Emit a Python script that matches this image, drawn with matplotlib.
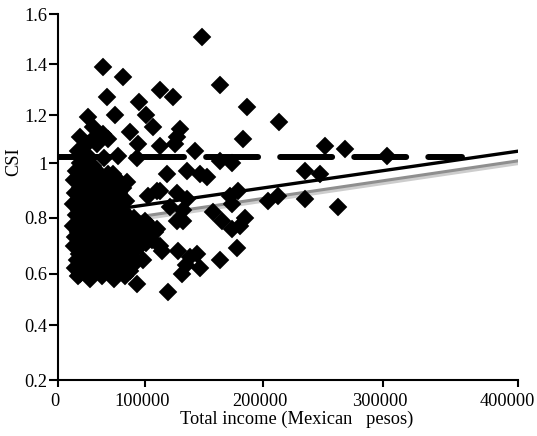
"""
Scatter of CSI vs total household income (Mexican pesos) with two fitted
lines and a dashed reference level.
"""

import numpy as np
import matplotlib
matplotlib.use("Agg")
import matplotlib.pyplot as plt
import matplotlib.patheffects as pe
from matplotlib.transforms import ScaledTranslation

# ---------------------------------------------------------------------------
# data
# ---------------------------------------------------------------------------
income = [
    # sparse points above the cloud
    148400, 51600, 74600, 163700, 112700, 123800, 56200, 93100, 186700,
    65400, 100800, 34300, 213600, 40000, 106800, 82700, 129700, 51600,
    25000, 40000, 127200, 183300, 57300, 91900, 112700, 33100, 44600,
    125500, 142500, 251900, 268900,
    # around the dashed level
    68900, 90800, 163700, 173900, 303200, 40000, 22700, 34300, 52700, 25000,
    # right part of the cloud
    235300, 247800, 118700, 135700, 152700, 172200, 179000, 173900, 204400,
    212800, 235300, 263000, 157800, 165400, 173900, 185000, 180700, 178200,
    163700, 119500, 90800, 146700, 144200, 128000, 138200, 131400, 134900,
    102500, 112700, 132300, 127200, 110200, 127200, 135700, 121200, 132300,
    110200, 112700, 146700, 105900, 114400,
    # dense low-income cloud
    20400, 31900, 44600, 57300,
    26200, 38900, 50400, 63100,
    18100, 30800, 43500, 56200, 68900, 79200,
    25000, 37700, 50400, 63100, 74600,
    19300, 31900, 44600, 57300, 70000,
    23900, 36600, 49200, 61900, 73500,
    17000, 29600, 42300, 55000, 67700, 78100,
    23900, 36600, 49200, 61900, 73500,
    20400, 33100, 45800, 58500, 71200, 82700,
    23900, 36600, 49200, 61900, 74600, 87300, 100000,
    17000, 29600, 42300, 55000, 67700, 80400, 93100, 104200,
    22700, 35400, 48100, 60800, 73500, 86100, 98800, 108500,
    19300, 31900, 44600, 57300, 70000, 82700, 95400,
    25000, 37700, 50400, 63100, 75800, 88500, 100800,
    18100, 30800, 43500, 56200, 68900, 81500, 94200,
    23900, 36600, 49200, 61900, 74600, 87300,
    21600, 34300, 46900, 59600, 72300, 85000, 97700,
    26200, 38900, 51600, 64200, 76900, 89600,
    19300, 31900, 44600, 57300, 70000, 82700,
    25000, 37700, 50400, 63100, 75800,
    22700, 36600, 50400, 64200, 76900,
]
csi = [
    1.51, 1.39, 1.35, 1.32, 1.30, 1.27, 1.27, 1.25, 1.23,
    1.20, 1.20, 1.19, 1.17, 1.15, 1.15, 1.13, 1.14, 1.12,
    1.11, 1.10, 1.11, 1.10, 1.10, 1.08, 1.07, 1.08, 1.08,
    1.08, 1.05, 1.07, 1.06,
    1.03, 1.02, 1.01, 1.00, 1.03, 0.99, 1.05, 1.03, 1.02, 1.00,
    0.97, 0.96, 0.96, 0.97, 0.95, 0.88, 0.90, 0.85, 0.86,
    0.88, 0.87, 0.84, 0.82, 0.79, 0.76, 0.80, 0.77, 0.69,
    0.65, 0.53, 0.56, 0.62, 0.67, 0.68, 0.66, 0.60, 0.63,
    0.88, 0.90, 0.83, 0.79, 0.90, 0.89, 0.87, 0.84, 0.79,
    0.76, 0.70, 0.96, 0.72, 0.68,
    0.97, 0.98, 0.97, 0.96,
    0.95, 0.96, 0.95, 0.96,
    0.94, 0.93, 0.94, 0.93, 0.94, 0.93,
    0.91, 0.92, 0.91, 0.92, 0.91,
    0.89, 0.90, 0.89, 0.90, 0.89,
    0.87, 0.88, 0.87, 0.88, 0.87,
    0.85, 0.86, 0.85, 0.86, 0.85, 0.86,
    0.83, 0.84, 0.83, 0.84, 0.83,
    0.81, 0.82, 0.81, 0.82, 0.81, 0.80,
    0.79, 0.80, 0.79, 0.80, 0.79, 0.80, 0.79,
    0.77, 0.78, 0.77, 0.78, 0.77, 0.78, 0.77, 0.77,
    0.75, 0.76, 0.75, 0.76, 0.75, 0.76, 0.75, 0.75,
    0.73, 0.74, 0.73, 0.74, 0.73, 0.74, 0.73,
    0.71, 0.72, 0.71, 0.72, 0.71, 0.72, 0.71,
    0.70, 0.69, 0.70, 0.69, 0.70, 0.69, 0.70,
    0.67, 0.68, 0.67, 0.68, 0.67, 0.68,
    0.65, 0.66, 0.65, 0.66, 0.65, 0.66, 0.65,
    0.63, 0.64, 0.63, 0.64, 0.63, 0.64,
    0.62, 0.61, 0.62, 0.61, 0.62, 0.61,
    0.60, 0.60, 0.60, 0.60, 0.60,
    0.59, 0.58, 0.59, 0.58, 0.59,
]

# fitted lines (end points) and the dashed reference level
fit_black_x = [20000, 400000]
fit_black_y = [0.81, 1.05]
fit_grey_x = [20000, 400000]
fit_grey_y = [0.77, 1.01]
ref_x = [0, 358700]
ref_y = [1.027, 1.027]

x_ticks = [0, 100000, 200000, 300000, 400000]
y_ticks = [0.2, 0.4, 0.6, 0.8, 1.0, 1.2, 1.4, 1.6]
y_tick_labels = ["0.2", "0.4", "0.6", "0.8", "1", "1.2", "1.4", "1.6"]

# the original figure's axes are not evenly spaced between ticks,
# so use a piecewise-linear scale through the tick marks
x_tick_pos = [0.0, 86.7, 204.4, 324.4, 459.4]
y_tick_pos = [0.0, 54.7, 106.4, 162.3, 216.7, 265.0, 315.7, 365.7]


def make_scale(ticks, pos):
    ticks = np.asarray(ticks, float)
    pos = np.asarray(pos, float)

    def fwd(v):
        return np.interp(v, ticks, pos)

    def inv(v):
        return np.interp(v, pos, ticks)

    return fwd, inv


plt.rcParams["font.family"] = ["Liberation Serif", "DejaVu Serif"]
FS = 13.2

fig = plt.figure(figsize=(5.37, 4.36), dpi=100)
ax = fig.add_axes([0.1086, 0.1284, 0.8555, 0.8388])
ax.set_xscale("function", functions=make_scale(x_ticks, x_tick_pos))
ax.set_yscale("function", functions=make_scale(y_ticks, y_tick_pos))

# reference level
ax.plot(ref_x, ref_y, color="black", lw=4.3, linestyle=(0, (8.7, 3.7)),
        dash_capstyle="round", solid_capstyle="round", zorder=2)

# fitted lines
ax.plot(fit_grey_x, fit_grey_y, color="#8f8f8f", lw=2.2, zorder=2,
        path_effects=[pe.Stroke(offset=(0, -1.6), linewidth=3.0,
                                foreground="#cdcdcd"), pe.Normal()])
ax.plot(fit_black_x, fit_black_y, color="black", lw=2.4, zorder=3)

# observations
ax.plot(income, csi, linestyle="none", marker="D", ms=9.0,
        mfc="black", mec="black", mew=0.3, zorder=4)

ax.set_xlim(0, 400000)
ax.set_ylim(0.2, 1.6)
ax.set_xticks(x_ticks)
ax.set_xticklabels([str(t) for t in x_ticks])
ax.set_yticks(y_ticks)
ax.set_yticklabels(y_tick_labels)
ax.minorticks_off()

for side in ("top", "right"):
    ax.spines[side].set_visible(False)
for side in ("left", "bottom"):
    ax.spines[side].set_linewidth(1.5)

ax.tick_params(axis="x", direction="out", length=5, width=1.5, pad=4,
               labelsize=FS)
ax.tick_params(axis="y", direction="out", length=6.5, width=1.5, pad=1.5,
               labelsize=FS)

# tick labels sit a little left of their ticks in the original
xlabels = ax.get_xticklabels()
for i, lab in enumerate(xlabels):
    dx = -0.03 if i < len(xlabels) - 1 else -0.10
    lab.set_transform(lab.get_transform() +
                      ScaledTranslation(dx, 0, fig.dpi_scale_trans))

ax.set_xlabel("Total income (Mexican   pesos)", fontsize=FS)
ax.xaxis.set_label_coords(0.5185, -0.085)
ax.xaxis.label.set_va("top")

ax.set_ylabel("CSI", fontsize=FS)
ax.yaxis.label.set_va("center")
ax.yaxis.set_label_coords(-0.097, 0.596)

fig.savefig("out.png", dpi=100)
